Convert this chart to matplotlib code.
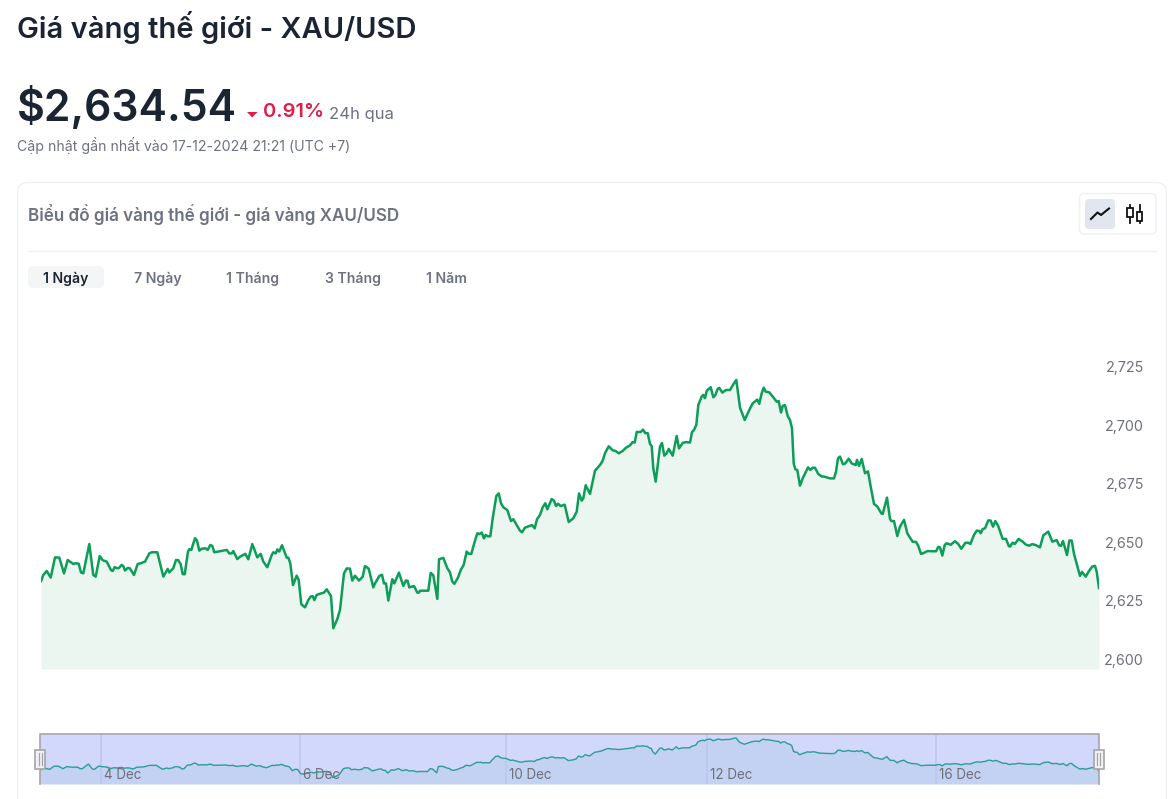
import matplotlib
matplotlib.use("Agg")
import matplotlib.pyplot as plt
from matplotlib.patches import FancyBboxPatch, Polygon, Rectangle

W, H = 1169, 799

# Sample position along the time axis (0 = start of 3 Dec session view)
time_idx = [0,2.3,5.7,9.7,14,18.3,23,26.7,32.3,34.7,37.7,40,42.3,48.3,52.3,54.7,58.7,61.7,65.7,70,71.7,73.7,75.7,77.7,80.7,82.3,84,86.7,88.7,93,96.7,99.7,104,108.3,110.7,116.3,122.3,126.7,128.3,132.3,135,137.3,139.7,141.7,143.7,147,148.3,150.3,154,156,158.3,160.7,164.3,166.7,169.3,171.3,173.3,177.3,185.7,188.3,190.7,192.3,196.3,199,204.3,207.3,211.3,216.3,219.7,222.3,226.3,230.7,232.3,234.7,236.3,238.3,241,245.7,247.3,249.3,252,255.7,257.7,260.3,264,267.3,269.7,271.7,273.3,275.7,279,283,285.7,
290,292.3,296.3,299,303,305.7,309,311.3,314,318,321.7,324,327.7,332.3,334,338.3,341,343,345,347.3,351.3,353.3,358,362.3,365,366.7,368.3,373,376.3,378,379,387.3,389.7,392.3,396.3,398,402.3,406.3,409,411.3,413.3,417,420,422.7,425.7,428,430.3,433,436.3,438.3,440.7,443,444.7,446.7,449.3,451.7,455.3,457.7,460,462.3,466.3,470,472.3,475.7,479,481,484,488.3,491,493.7,496,499,501.7,504.3,506.3,510.7,513,515,517,519.7,523.7,527.7,532.3,535.7,538,540.7,542.3,544.7,549,554,
559,561.7,564,567.7,571.7,574.7,577.7,581.7,585,589,591.7,593.7,595.7,599.7,602,604.3,606.7,609,610.7,612.3,614.7,619,621,623.3,625.7,627.7,631.7,635.7,638,641.7,645,649,651,653,655.3,657.3,660.7,662.3,664,665.7,669.7,672.3,674.3,676.7,678.3,681.3,685,689,692,695.3,699,703.7,708.3,711.7,716.3,718.3,720.7,722.7,724.7,728.3,732.3,735.7,737.7,740,741.7,744,746.7,749,751,752.7,754.3,756.3,759,761.7,767,769.3,771.7,774,777.3,780.7,783,789,793,795,797,799,802,804.3,807.7,810.7,814.7,816,818,820.7,
824,827,829.7,833,836.3,840.3,841.7,846,849,850.3,853,856.3,859,863,866.3,869,871.7,875,877.3,880,882.3,886.3,895,897.3,899,901.3,903.7,905.7,909.7,914,917.3,920.3,924.3,927.3,929.3,933,935.7,938.3,939.7,941.7,944,947.3,949.7,952,954.3,957,961.7,965,967.7,969,971.7,973.7,977.7,981.7,985,988.3,991.3,995,999,1002.3,1007.3,1011.3,1015.7,1018,1020,1022,1026,1028.3,1030.7,1033,1039,1041,1044.7,1048.3,1051.3,1054,1055.7,1058]

# XAU/USD price
price = [2637.5,2640.1,2641.8,2639.0,2647.6,2647.5,2640.8,2646.5,2644.8,2645.1,2644.9,2641.2,2640.8,2653.3,2640.1,2639.4,2648.2,2646.4,2645.8,2642.2,2641.8,2643.5,2643.0,2643.0,2644.4,2643.9,2642.0,2643.1,2643.0,2640.1,2644.8,2645.1,2645.8,2649.3,2649.8,2649.8,2639.4,2642.7,2641.2,2643.0,2646.5,2646.4,2644.7,2640.5,2640.4,2650.1,2651.1,2650.8,2655.8,2654.8,2650.5,2651.3,2651.5,2650.8,2652.9,2652.5,2649.8,2650.1,2650.8,2649.3,2649.3,2650.3,2646.9,2647.9,2649.1,2646.8,2653.3,2647.6,2649.1,2645.8,2643.4,2648.6,2649.8,2649.3,2651.0,2650.1,2652.8,2647.5,2647.5,2645.1,2635.8,2639.8,2638.0,2627.6,2626.3,2629.4,2630.9,2631.1,2629.4,2631.6,2632.1,2632.6,2634.0,
2631.1,2617.4,2621.3,2625.2,2640.8,2642.9,2642.8,2637.7,2639.8,2637.7,2639.4,2643.9,2642.8,2634.8,2636.5,2639.7,2640.2,2636.5,2636.5,2629.2,2638.3,2636.5,2641.1,2635.4,2637.8,2637.5,2634.8,2635.4,2632.6,2632.6,2633.4,2633.4,2641.0,2640.0,2629.9,2646.8,2647.4,2643.0,2641.2,2637.3,2636.3,2639.0,2642.5,2644.4,2650.1,2649.1,2649.1,2653.3,2657.9,2657.5,2658.2,2655.7,2657.2,2656.6,2656.6,2664.3,2673.8,2674.9,2670.7,2669.0,2667.8,2663.1,2663.9,2661.4,2659.0,2658.3,2660.3,2661.0,2661.4,2660.0,2663.9,2665.7,2669.0,2670.7,2668.1,2672.5,2671.8,2669.5,2670.5,2669.5,2670.1,2662.7,2664.3,2667.1,2674.9,2671.8,2672.8,2678.4,2674.7,2684.6,
2687.0,2688.9,2692.0,2695.0,2693.3,2693.0,2692.0,2693.0,2694.4,2695.4,2696.8,2696.6,2701.1,2701.1,2702.1,2700.6,2700.6,2696.0,2695.1,2685.6,2679.9,2694.9,2696.4,2691.0,2692.0,2693.9,2691.0,2699.4,2694.1,2696.4,2696.8,2696.6,2701.0,2702.0,2704.1,2712.6,2716.2,2716.9,2715.5,2718.6,2720.2,2715.9,2716.8,2719.5,2719.9,2717.9,2719.0,2719.0,2721.2,2723.3,2711.5,2706.2,2710.5,2713.3,2714.9,2713.1,2717.6,2720.0,2718.3,2718.0,2715.9,2714.0,2714.3,2709.4,2712.2,2712.6,2707.9,2706.2,2702.7,2687.7,2685.2,2684.9,2678.2,2681.3,2686.0,2684.9,2685.9,2685.8,2683.2,2682.1,2682.1,2681.3,2681.3,2684.2,2689.9,2690.6,2687.3,2687.7,2689.7,2687.7,2687.0,2689.2,2686.6,2689.6,
2683.5,2684.3,2677.8,2670.4,2669.3,2666.4,2666.1,2673.1,2664.0,2663.1,2663.1,2656.7,2660.7,2663.6,2657.9,2656.0,2654.3,2654.2,2652.5,2649.1,2649.4,2650.3,2650.2,2652.1,2651.9,2648.4,2652.9,2653.6,2653.0,2654.5,2653.3,2651.3,2653.8,2653.9,2653.3,2657.2,2659.0,2658.9,2657.9,2659.7,2660.0,2663.4,2663.3,2660.7,2663.1,2661.2,2655.5,2655.5,2652.5,2652.2,2653.9,2653.3,2655.5,2654.3,2653.0,2652.6,2653.3,2652.8,2651.9,2657.0,2658.6,2654.3,2655.0,2652.8,2652.5,2654.6,2648.6,2654.8,2654.8,2649.1,2639.7,2641.4,2639.4,2642.0,2643.7,2644.0,2641.5,2634.5]

y_ticks = [2600, 2625, 2650, 2675, 2700, 2725]
date_labels = ["4 Dec", "6 Dec", "10 Dec", "12 Dec", "16 Dec"]
date_pos = [61, 260, 466, 666, 895]
tabs = ["1 Ngày", "7 Ngày", "1 Tháng", "3 Tháng", "1 Năm"]

FONT = "Inter"
DARK = "#1a2433"
GREY = "#6b7280"

fig = plt.figure(figsize=(W / 100, H / 100), dpi=100, facecolor="white")


def px_axes(x0, y0, x1, y1, z):
    a = fig.add_axes([x0 / W, 1 - y1 / H, (x1 - x0) / W, (y1 - y0) / H], zorder=z)
    a.patch.set_alpha(0)
    a.set_axis_off()
    return a


# page furniture, in pixel coordinates
ui = px_axes(0, 0, W, H, 0)
ui.set_xlim(0, W)
ui.set_ylim(H, 0)


def label(x, y, s, size, color=DARK, weight="normal", ha="left"):
    ui.text(x, y, s, fontsize=size, color=color, fontweight=weight, ha=ha, va="center",
            family=[FONT, "DejaVu Sans"])


def rbox(x0, y0, x1, y1, r, fc, ec="none", lw=1.0):
    ui.add_patch(FancyBboxPatch((x0 + r, y0 + r), x1 - x0 - 2 * r, y1 - y0 - 2 * r,
                                boxstyle=f"round,pad={r},rounding_size={r}",
                                fc=fc, ec=ec, lw=lw, mutation_aspect=1))


label(17, 28, "Giá vàng thế giới - XAU/USD", 21, weight="semibold")
label(17, 108, "$2,634.54", 30.8, weight="semibold")
ui.add_patch(Polygon([(247, 112), (257.5, 112), (252.2, 117.5)], fc="#e11d48", ec="none"))
label(263, 112, "0.91%", 14.5, color="#e11d48", weight="semibold")
label(329, 115, "24h qua", 12, color=GREY)
label(17, 146, "Cập nhật gần nhất vào 17-12-2024 21:21 (UTC +7)", 10.15, color=GREY)

rbox(17.5, 182.5, 1166.5, 860, 10, "white", "#eef0f4", 1.0)
label(28, 215, "Biểu đồ giá vàng thế giới - giá vàng XAU/USD", 12.25, color=GREY, weight="semibold")
ui.plot([28, 1156], [250.5, 250.5], color="#eef0f4", lw=1)

rbox(1079.5, 193.5, 1156, 234, 5, "white", "#eef0f4", 1.0)
rbox(1085, 199, 1115, 229, 4, "#e2e6ef")
ui.plot([1091, 1097.5, 1101, 1109], [219, 212.5, 215, 208.5], color="#111111", lw=1.5)
for cx, by0, by1 in [(1130, 207.5, 217), (1139.7, 212, 221)]:
    ui.plot([cx, cx], [204.5, 223], color="#111111", lw=1.3)
    ui.add_patch(Rectangle((cx - 2.6, by0), 5.2, by1 - by0, fc="white", ec="#111111", lw=1.3, zorder=3))

rbox(28, 266, 104, 288, 5, "#f4f5f6")
for s, cx, col in zip(tabs, [66, 158, 253, 353, 447], [DARK, GREY, GREY, GREY, GREY]):
    label(cx, 279, s, 10.1, color=col, weight="semibold", ha="center")

# main price chart
ax = px_axes(41, 345, 1099, 669, 2)
ax.set_xlim(0, 1058)
ax.set_ylim(2600, 2738.2)
ax.fill_between(time_idx, price, 2600, color="#ebf6f1", lw=0)
ax.plot(time_idx, price, color="#0c9d58", lw=1.8, solid_joinstyle="round")
for v in y_ticks:
    ax.annotate(f"{v:,}", xy=(1058, v), xytext=(45, 8), textcoords="offset pixels",
                ha="right", va="center", fontsize=10.3, color="#6e7079", family=FONT,
                annotation_clip=False)

# range slider
sl = px_axes(40, 734, 1099, 784, 2)
sl.set_xlim(0, 1058)
sl.set_ylim(2600, 2733.6)
sl.add_patch(Rectangle((0, 2600), 1058, 133.6, fc="#d2d7fc", ec="none"))
sl.fill_between(time_idx, price, 2600, color="#c3d1f3", lw=0)
for p in date_pos:
    sl.axvline(p, color="#c0c6ee", lw=1.2)
sl.plot(time_idx, price, color="#2a9d94", lw=1.0)
sl.plot([0, 0, 1058, 1058], [2600, 2733.6, 2733.6, 2600], color="#a5a5a8", lw=1.2, clip_on=False)
for s, p in zip(date_labels, date_pos):
    sl.annotate(s, xy=(p, 2600), xytext=(3, 9), textcoords="offset pixels", ha="left", va="center",
                fontsize=9.7, color="#6e7079", family=FONT)

top = px_axes(0, 0, W, H, 4)
top.set_xlim(0, W)
top.set_ylim(H, 0)
for cx in (40, 1098.5):
    top.add_patch(Rectangle((cx - 5, 749.5), 10, 19, fc="#f2f2f4", ec="#a5a5a8", lw=1.2))
    top.plot([cx - 1.5, cx - 1.5], [753, 765], color="#a5a5a8", lw=0.9)
    top.plot([cx + 1.5, cx + 1.5], [753, 765], color="#a5a5a8", lw=0.9)

fig.savefig("out.png", dpi=100, facecolor="white")
